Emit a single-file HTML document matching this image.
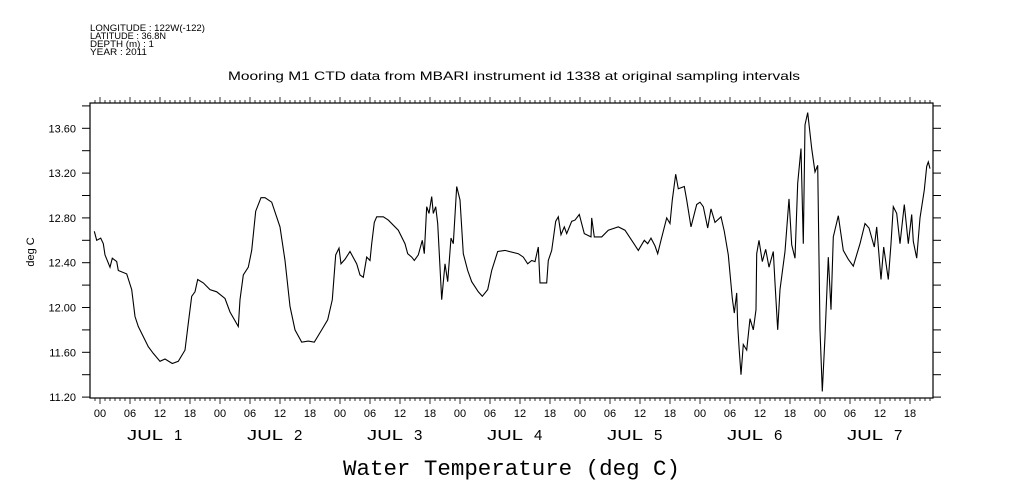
<!DOCTYPE html>
<html><head><meta charset="utf-8"><style>
html,body{margin:0;padding:0;background:#fff;}
svg{display:block;}
text{font-family:"Liberation Sans",sans-serif;fill:#000;}
</style></head><body>
<svg id="chart" width="1009" height="504" viewBox="0 0 1009 504" xmlns="http://www.w3.org/2000/svg">
<g font-size="9">
<text x="90" y="31" textLength="115" lengthAdjust="spacingAndGlyphs">LONGITUDE : 122W(-122)</text>
<text x="90" y="39" textLength="76" lengthAdjust="spacingAndGlyphs">LATITUDE : 36.8N</text>
<text x="90" y="47" textLength="64" lengthAdjust="spacingAndGlyphs">DEPTH (m) : 1</text>
<text x="90" y="55" textLength="57" lengthAdjust="spacingAndGlyphs">YEAR : 2011</text>
</g>
<text x="228" y="80" textLength="572" lengthAdjust="spacingAndGlyphs" font-size="12">Mooring M1 CTD data from MBARI instrument id 1338 at original sampling intervals</text>
<text transform="translate(34,252) rotate(-90)" text-anchor="middle" font-size="11">deg C</text>
<text x="343" y="475" textLength="337" lengthAdjust="spacingAndGlyphs" font-size="22" style="font-family:'Liberation Mono',monospace">Water Temperature (deg C)</text>
<g id="axes"></g>
<g id="series"></g>
</svg>
<script>
const hours = [-1.14,-0.66,0.14,0.66,1.0,2,2.46,3.34,3.66,5.34,6.34,7,7.66,8.66,9.66,10.66,12,13,14.46,15.66,17,17.66,18.34,19,19.54,20.66,22,23.34,25,26,27.66,28,28.66,29.66,30.34,31.14,32.2,33,34.34,36,37,38,39,40.34,41.66,42.86,44.34,45.54,46.46,47.14,47.8,48.2,49,50,51.34,52,52.66,53.34,54,54.34,54.86,55.34,56.66,57.66,59.66,61,61.54,62.34,62.86,63.66,64.46,64.86,65.34,65.8,66.34,66.66,67.14,67.54,68.34,69,69.54,70.2,70.66,71.34,72,72.66,73.54,74.34,75.66,76.46,77.54,78.34,79.54,81,83.66,84.66,85.54,86.34,87,87.66,88,89.34,89.66,90.34,91.14,91.66,92.2,92.86,93.34,94.34,95,95.86,96.86,98.2,98.34,98.86,100.34,101.66,103.66,105,106.34,107.66,108.86,109.54,110.2,111,111.54,112.2,113.34,114,114.46,115.14,115.66,116.86,117.34,118.2,119.34,120,120.66,121.54,122.2,123,124.2,124.86,125.66,126.46,126.86,127.34,127.54,127.8,128.2,128.66,129.34,130,130.66,131.2,131.34,131.8,132.46,133.14,133.8,134.66,135,135.54,136,137,137.8,138.34,139,139.54,140.2,140.66,141,141.54,142.34,143,143.54,144,144.46,145,145.66,146.2,146.66,147.66,148.66,149.66,150.66,152,153,153.8,154.86,155.34,156.2,156.74,157.66,158.2,158.66,159.34,160,160.86,161.66,162.34,162.66,163.34,164,164.86,165.34,165.66,166];
const temps = [12.68,12.60,12.62,12.57,12.47,12.36,12.44,12.41,12.33,12.30,12.16,11.92,11.83,11.74,11.65,11.59,11.52,11.54,11.50,11.52,11.62,11.86,12.10,12.14,12.25,12.22,12.16,12.14,12.08,11.96,11.83,12.07,12.29,12.36,12.51,12.86,12.98,12.98,12.94,12.72,12.42,12.01,11.80,11.69,11.70,11.69,11.80,11.89,12.07,12.47,12.53,12.39,12.43,12.50,12.39,12.29,12.27,12.45,12.42,12.57,12.76,12.81,12.81,12.78,12.69,12.57,12.48,12.45,12.42,12.47,12.60,12.48,12.90,12.84,12.99,12.84,12.90,12.75,12.07,12.39,12.23,12.62,12.57,13.08,12.96,12.48,12.33,12.23,12.14,12.10,12.16,12.33,12.50,12.51,12.48,12.45,12.39,12.42,12.41,12.54,12.22,12.22,12.42,12.51,12.77,12.81,12.65,12.72,12.66,12.77,12.78,12.83,12.66,12.63,12.80,12.63,12.63,12.69,12.72,12.69,12.60,12.51,12.60,12.57,12.62,12.55,12.48,12.60,12.80,12.75,12.96,13.19,13.06,13.08,12.96,12.72,12.92,12.94,12.90,12.71,12.88,12.76,12.81,12.68,12.47,12.08,11.95,12.13,11.84,11.65,11.40,11.67,11.62,11.90,11.80,11.98,12.48,12.60,12.41,12.52,12.36,12.50,12.22,11.80,12.16,12.50,12.97,12.56,12.44,13.11,13.42,12.57,13.63,13.74,13.42,13.21,13.27,11.80,11.25,11.74,12.45,11.98,12.63,12.82,12.51,12.43,12.37,12.57,12.75,12.71,12.54,12.72,12.25,12.54,12.25,12.57,12.90,12.84,12.57,12.92,12.57,12.83,12.59,12.44,12.80,13.05,13.26,13.30,13.24];
const yTicks = [11.2,11.6,12.0,12.4,12.8,13.2,13.6];
const yTickLabels = ["11.20","11.60","12.00","12.40","12.80","13.20","13.60"];
const dayLabels = ["JUL","JUL","JUL","JUL","JUL","JUL","JUL"];
const dayNums = ["1","2","3","4","5","6","7"];
const hourLabels = ["00","06","12","18"];

const L=90,R=933,T=103,B=398;
const xs = h => 100 + h*5;
const ys = v => 128.3 + (13.6 - v)*112;
const NS="http://www.w3.org/2000/svg";
const axes=document.getElementById('axes');
const series=document.getElementById('series');
function mk(tag,attrs,parent){const e=document.createElementNS(NS,tag);for(const k in attrs)e.setAttribute(k,attrs[k]);parent.appendChild(e);return e;}

const frame=mk('rect',{x:L,y:T,width:R-L,height:B-T,fill:'none',stroke:'#000','stroke-width':1.2},axes);



for(let v=11.2; v<=13.81; v+=0.2){
  const y=ys(v);
  const t1=mk('line',{x1:L-8,x2:L,y1:y,y2:y,stroke:'#000'},axes);
  
  
  const t2=mk('line',{x1:R,x2:R+8,y1:y,y2:y,stroke:'#000'},axes);
  
  
}
yTicks.forEach((v,i)=>{
  const t=mk('text',{x:L-14,y:ys(v)+4,'text-anchor':'end','font-size':11},axes);
  t.textContent=yTickLabels[i];
  
  
});
for(let h=-1; h<=166; h++){
  const x=xs(h);
  const big = h%6===0;
  const tb=mk('line',{x1:x,x2:x,y1:B,y2:B+(big?6:3),stroke:'#000','stroke-width':0.8},axes);
  
  
  const tt=mk('line',{x1:x,x2:x,y1:T,y2:T-(big?6:3),stroke:'#000','stroke-width':0.8},axes);
  
  
  if(big && h>=0){
    const lab=mk('text',{x:x,y:417,'text-anchor':'middle','font-size':11},axes);
    lab.textContent=hourLabels[(h/6)%4];
    
    
  }
}
dayLabels.forEach((d,i)=>{
  const cx=xs(i*24+12);
  const t=mk('text',{x:cx-33,y:440,'font-size':15,textLength:36,lengthAdjust:'spacingAndGlyphs'},axes);
  t.textContent=d;
  
  
  const n=mk('text',{x:cx+14,y:440,'font-size':15},axes);
  n.textContent=dayNums[i];
  
  
});

const pts=hours.map((h,i)=>xs(h).toFixed(1)+','+ys(temps[i]).toFixed(1)).join(' ');
const line=mk('polyline',{points:pts,fill:'none',stroke:'#000','stroke-width':1.1},series);


</script>
</body></html>
